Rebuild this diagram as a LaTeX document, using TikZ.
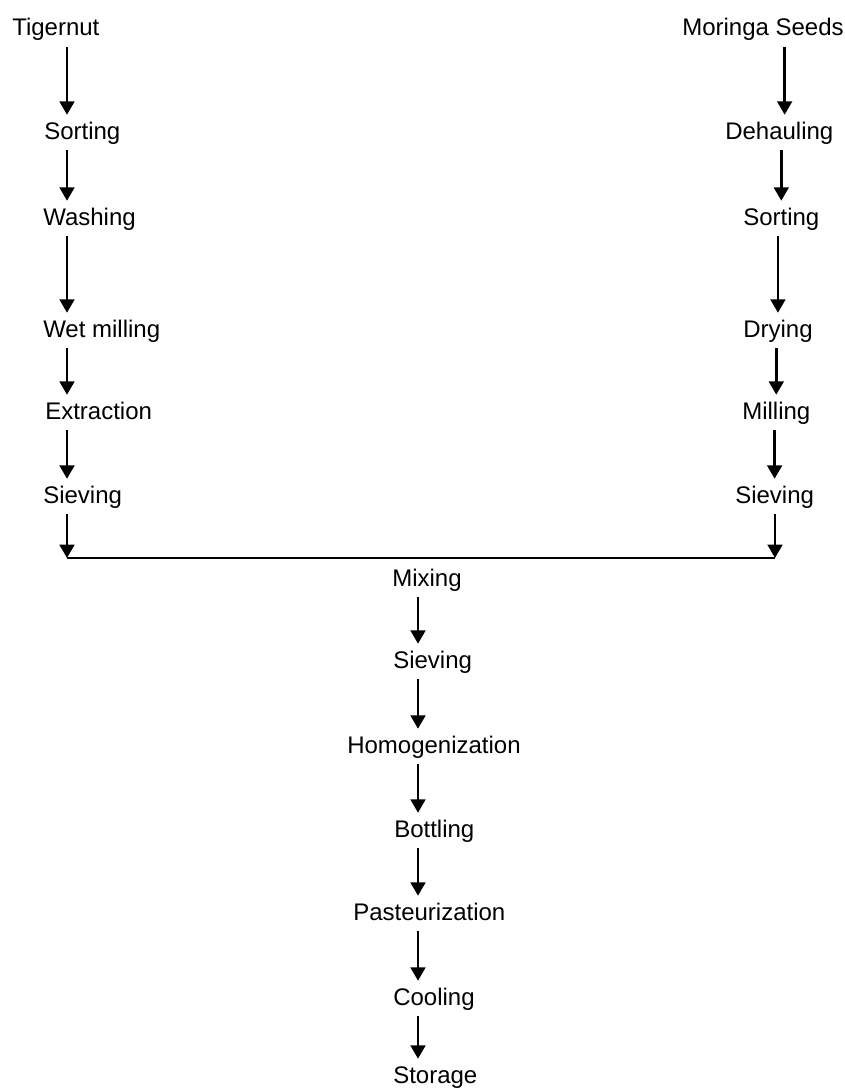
\documentclass[tikz,border=0pt]{standalone}
\usepackage{fontspec}
\setmainfont{Liberation Sans}
\usetikzlibrary{arrows.meta}
\tikzstyle{line} = [draw, line width=2pt, -{Triangle[width=11pt,length=10pt]}]
\tikzstyle{stage} = [anchor=base west, inner xsep=0pt, inner ysep=4.5pt, text height=13.5pt, text depth=3.8pt, font=\fontsize{18pt}{22pt}\selectfont]

\begin{document}
\begin{tikzpicture}[x=0.75pt, y=-0.75pt]
	\useasboundingbox (0,0) rectangle (845,1088);
	\coordinate (colL) at (67,0);
	\coordinate (colM) at (418,0);
	% tigernut branch
	\node [stage] (tigernut) at (12,36) {Tigernut};
	\node [stage] (sortL) at (44,139) {Sorting};
	\node [stage] (washing) at (43,225) {Washing};
	\node [stage] (wetmill) at (43,337) {Wet milling};
	\node [stage] (extract) at (45,419) {Extraction};
	\node [stage] (sieveL) at (43,503) {Sieving};
	% moringa branch
	\node [stage] (moringa) at (682,36) {Moringa Seeds};
	\node [stage] (dehaul) at (725,139) {Dehauling};
	\node [stage] (sortR) at (743,225) {Sorting};
	\node [stage] (drying) at (743,337) {Drying};
	\node [stage] (milling) at (742,419) {Milling};
	\node [stage] (sieveR) at (735,503) {Sieving};
	\coordinate (colR) at ([xshift=4pt]dehaul.north);
	\coordinate (joinL) at (67,558);
	\coordinate (joinR) at (775,558);
	% common part
	\node [stage] (mixing) at (392,586) {Mixing};
	\node [stage] (sieveM) at (393,668) {Sieving};
	\node [stage] (homog) at (347,753) {Homogenization};
	\node [stage] (bottling) at (394,837) {Bottling};
	\node [stage] (pasteur) at (353,920) {Pasteurization};
	\node [stage] (cooling) at (393,1005) {Cooling};
	\node [stage] (storage) at (393,1083) {Storage};
	\path [line] (tigernut.south -| colL) -- (sortL.north -| colL);
	\path [line] (sortL.south -| colL) -- (washing.north -| colL);
	\path [line] (washing.south -| colL) -- (wetmill.north -| colL);
	\path [line] (wetmill.south -| colL) -- (extract.north -| colL);
	\path [line] (extract.south -| colL) -- (sieveL.north -| colL);
	\path [line] (sieveL.south -| colL) -- (joinL);
	\path [line] (moringa.south -| colR) -- (colR);
	\path [line] (dehaul.south -| sortR.north) -- (sortR.north);
	\path [line] (sortR.south -| drying.north) -- (drying.north);
	\path [line] (drying.south -| milling.north) -- (milling.north);
	\path [line] (milling.south -| sieveR.north) -- (sieveR.north);
	\path [line] (sieveR.south -| joinR) -- (joinR);
	\draw [line width=2pt] (joinL) -- (joinR);
	\path [line] (mixing.south -| colM) -- (sieveM.north -| colM);
	\path [line] (sieveM.south -| colM) -- (homog.north -| colM);
	\path [line] (homog.south -| colM) -- (bottling.north -| colM);
	\path [line] (bottling.south -| colM) -- (pasteur.north -| colM);
	\path [line] (pasteur.south -| colM) -- (cooling.north -| colM);
	\path [line] (cooling.south -| colM) -- (storage.north -| colM);
\end{tikzpicture}
\end{document}
